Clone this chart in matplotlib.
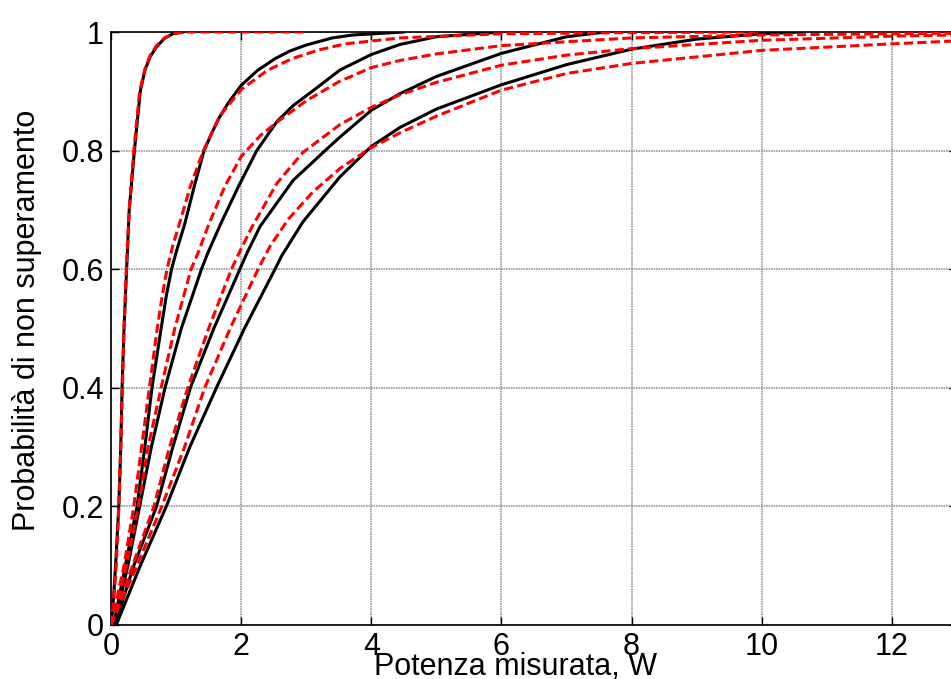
import matplotlib
matplotlib.use('Agg')
import matplotlib.pyplot as plt

plt.rcParams['font.family'] = ['Liberation Sans', 'DejaVu Sans']

# curve 1 (fastest)
x_emp1 = [0, 0.03, 0.07, 0.12, 0.15, 0.17, 0.2, 0.24, 0.28, 0.36, 0.45, 0.52, 0.6, 0.7, 0.82, 0.95, 1.1]
p_emp1 = [0, 0.03, 0.1, 0.2, 0.3, 0.4, 0.5, 0.6, 0.7, 0.8, 0.9, 0.935, 0.958, 0.975, 0.989, 0.997, 1.0]
x_fit1 = [0, 0.04, 0.08, 0.12, 0.15, 0.175, 0.2, 0.235, 0.28, 0.35, 0.44, 0.52, 0.6, 0.7, 0.82, 0.98, 1.2, 3.0]
p_fit1 = [0, 0.04, 0.1, 0.2, 0.3, 0.4, 0.5, 0.6, 0.7, 0.8, 0.9, 0.937, 0.96, 0.977, 0.99, 0.998, 1.0, 1.0]

# curve 2
x_emp2 = [0.04, 0.22, 0.40, 0.52, 0.63, 0.77, 0.85, 0.93, 1.01, 1.13, 1.28, 1.43, 1.55, 1.66, 1.8, 2.0,
          2.25, 2.52, 2.75, 3.0, 3.4, 3.72, 4.5]
p_emp2 = [0, 0.1, 0.2, 0.3, 0.4, 0.5, 0.555, 0.6, 0.632, 0.675, 0.74, 0.8, 0.83, 0.855, 0.88, 0.91,
          0.935, 0.955, 0.968, 0.978, 0.99, 0.995, 1.0]
x_fit2 = [0, 0.2, 0.35, 0.47, 0.59, 0.71, 0.78, 0.86, 0.95, 1.06, 1.22, 1.42, 1.67, 2.0, 2.4, 2.78,
          3.2, 3.6, 4.44, 6.0, 8.0, 10.0]
p_fit2 = [0, 0.1, 0.2, 0.3, 0.4, 0.5, 0.55, 0.6, 0.64, 0.68, 0.74, 0.8, 0.858, 0.903, 0.935, 0.955,
          0.97, 0.98, 0.99, 0.997, 0.999, 1.0]

# curve 3
x_emp3 = [0.05, 0.26, 0.44, 0.62, 0.83, 1.08, 1.39, 1.49, 1.70, 1.97, 2.24, 2.55, 2.8, 3.08, 3.52,
          4.0, 4.44, 5.0, 6.0]
p_emp3 = [0, 0.1, 0.2, 0.3, 0.4, 0.5, 0.6, 0.628, 0.68, 0.742, 0.8, 0.849, 0.876, 0.899, 0.936,
          0.962, 0.979, 0.992, 1.0]
x_fit3 = [0, 0.24, 0.42, 0.57, 0.77, 0.98, 1.23, 1.34, 1.50, 1.75, 2.0, 2.3, 2.6, 3.0, 3.5, 4.0,
          4.44, 5.0, 6.0, 8.0, 10.0, 13.0]
p_fit3 = [0, 0.1, 0.2, 0.3, 0.4, 0.5, 0.6, 0.628, 0.675, 0.74, 0.79, 0.826, 0.852, 0.884, 0.916, 0.94,
          0.952, 0.963, 0.977, 0.990, 0.995, 0.998]

# curve 4
x_emp4 = [0.06, 0.35, 0.70, 0.95, 1.22, 1.58, 1.98, 2.08, 2.29, 2.8, 3.29, 3.52, 4.0, 4.44, 5.0,
          6.0, 7.0, 7.6]
p_emp4 = [0, 0.1, 0.2, 0.3, 0.4, 0.5, 0.6, 0.625, 0.672, 0.75, 0.8, 0.823, 0.868, 0.896, 0.925,
          0.964, 0.992, 1.0]
x_fit4 = [0, 0.33, 0.66, 0.90, 1.18, 1.50, 1.85, 1.98, 2.16, 2.55, 2.95, 3.52, 4.0, 4.44, 5.0, 6.0,
          7.0, 8.0, 10.0, 12.0, 13.0]
p_fit4 = [0, 0.1, 0.2, 0.3, 0.4, 0.5, 0.6, 0.63, 0.67, 0.745, 0.797, 0.844, 0.873, 0.894, 0.915, 0.944,
          0.961, 0.972, 0.986, 0.993, 0.995]

# curve 5 (slowest)
x_emp5 = [0.08, 0.45, 0.85, 1.21, 1.62, 2.05, 2.52, 2.62, 2.95, 3.52, 4.0, 4.44, 5.0, 6.0, 7.0,
          8.0, 9.0, 10.0, 10.6]
p_emp5 = [0, 0.1, 0.2, 0.3, 0.4, 0.5, 0.6, 0.622, 0.68, 0.756, 0.807, 0.839, 0.87, 0.911, 0.945,
          0.971, 0.988, 0.997, 1.0]
x_fit5 = [0, 0.40, 0.78, 1.13, 1.44, 1.83, 2.26, 2.45, 2.73, 3.1, 3.52, 4.0, 4.44, 5.0, 6.0, 7.0,
          8.0, 10.0, 12.0, 13.0]
p_fit5 = [0, 0.1, 0.2, 0.3, 0.4, 0.5, 0.6, 0.64, 0.685, 0.73, 0.77, 0.805, 0.83, 0.858, 0.902, 0.93,
          0.947, 0.969, 0.980, 0.985]

x_ticks = [0, 2, 4, 6, 8, 10, 12]
y_ticks = [0, 0.2, 0.4, 0.6, 0.8, 1]
y_ticklabels = ['0', '0.2', '0.4', '0.6', '0.8', '1']

fig = plt.figure(figsize=(9.51, 6.79), dpi=100)
ax = fig.add_axes([111/951, 1 - 625/679, 846/951, 593/679])

emp = [(x_emp1, p_emp1), (x_emp2, p_emp2), (x_emp3, p_emp3), (x_emp4, p_emp4), (x_emp5, p_emp5)]
fit = [(x_fit1, p_fit1), (x_fit2, p_fit2), (x_fit3, p_fit3), (x_fit4, p_fit4), (x_fit5, p_fit5)]
for x, p in emp:
    ax.plot(x, p, color='k', lw=2.2, zorder=3)
for x, p in fit:
    ax.plot(x, p, color='r', lw=2.2, ls=(0, (3, 1.4)), zorder=4)

ax.set_xlim(0, 13)
ax.set_ylim(0, 1)
ax.set_xticks(x_ticks)
ax.set_yticks(y_ticks)
ax.set_yticklabels(y_ticklabels)
ax.grid(True, color='0.6', lw=1.2, ls=(0, (1, 0.5)))
ax.tick_params(direction='in', length=6, width=1, top=True, right=True,
               labelsize=22, pad=5)
for s in ax.spines.values():
    s.set_linewidth(1.2)

fig.text(515/951, 4/679, 'Potenza misurata, W', fontsize=22, ha='center', va='baseline')
fig.text(27/951, 1 - 320/679, 'Probabilità di non superamento', fontsize=22,
         ha='center', va='center', rotation=90)

fig.savefig('out.png', dpi=100)
